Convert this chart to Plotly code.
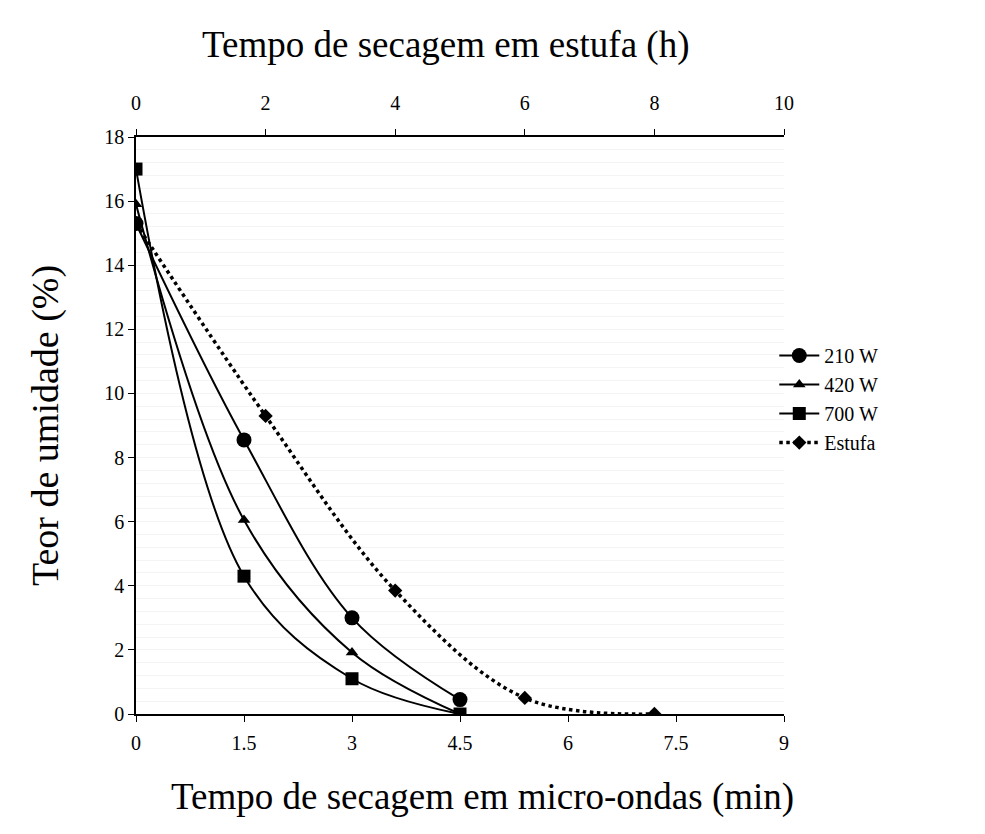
import plotly.graph_objects as go

# Microwave drying time (min)
t_mw = [0, 1.5, 3, 4.5]
w210 = [15.3, 8.55, 3.0, 0.45]
w420 = [15.9, 6.05, 1.92, 0.0]
w700 = [17.0, 4.3, 1.1, 0.0]

# Oven drying time (h)
t_oven = [0, 2, 4, 6, 8]
estufa = [15.3, 9.3, 3.85, 0.5, 0.0]

x_ticks = [0, 1.5, 3, 4.5, 6, 7.5, 9]
x2_ticks = [0, 2, 4, 6, 8, 10]
y_ticks = [0, 2, 4, 6, 8, 10, 12, 14, 16, 18]

FONT = "Liberation Serif, Times New Roman, serif"

fig = go.Figure()
line = dict(color="black", width=2, shape="spline", smoothing=1.0)
fig.add_trace(go.Scatter(x=t_mw, y=w210, name="210 W", mode="lines+markers",
                         line=line, marker=dict(symbol="circle", size=15, color="black")))
fig.add_trace(go.Scatter(x=t_mw, y=w420, name="420 W", mode="lines+markers",
                         line=line, marker=dict(symbol="triangle-up", size=11, color="black")))
fig.add_trace(go.Scatter(x=t_mw, y=w700, name="700 W", mode="lines+markers",
                         line=line, marker=dict(symbol="square", size=13, color="black")))
fig.add_trace(go.Scatter(x=t_oven, y=estufa, name="Estufa", mode="lines+markers", xaxis="x2",
                         line=dict(color="black", width=3.5, dash="dot", shape="spline", smoothing=1.0),
                         marker=dict(symbol="diamond", size=11, color="black")))

axis_common = dict(showline=True, linecolor="black", linewidth=1.5, ticks="outside",
                   ticklen=6, tickcolor="black", showgrid=False, zeroline=False,
                   tickfont=dict(family=FONT, size=20, color="black"))

fig.update_layout(
    width=985, height=834,
    paper_bgcolor="white", plot_bgcolor="white",
    margin=dict(l=136, r=201, t=137, b=120),
    font=dict(family=FONT, color="black"),
    xaxis=dict(range=[0, 9], tickvals=x_ticks, ticktext=[str(v) for v in x_ticks],
               ticklabelstandoff=4, **axis_common),
    xaxis2=dict(range=[0, 10], tickvals=x2_ticks, overlaying="x", side="top",
                ticklabelstandoff=11, **axis_common),
    yaxis=dict(range=[0, 18], tickvals=y_ticks,
               title=dict(text="Teor de umidade (%)", font=dict(family=FONT, size=38), standoff=34),
               minor=dict(dtick=0.4, showgrid=True, gridcolor="#f4f4f4", gridwidth=1),
               **axis_common),
    legend=dict(x=0.985, y=0.655, xanchor="left", yanchor="top",
                font=dict(family=FONT, size=20, color="black"),
                bgcolor="rgba(0,0,0,0)", tracegroupgap=4, itemwidth=40),
    showlegend=True,
    annotations=[
        dict(text="Tempo de secagem em estufa (h)", xref="paper", yref="paper",
             x=0.477, y=1.159, xanchor="center", yanchor="middle", showarrow=False,
             font=dict(family=FONT, size=37, color="black")),
        dict(text="Tempo de secagem em micro-ondas (min)", xref="paper", yref="paper",
             x=0.534, y=-0.144, xanchor="center", yanchor="middle", showarrow=False,
             font=dict(family=FONT, size=37, color="black")),
    ],
)

fig.write_html("out.html")
